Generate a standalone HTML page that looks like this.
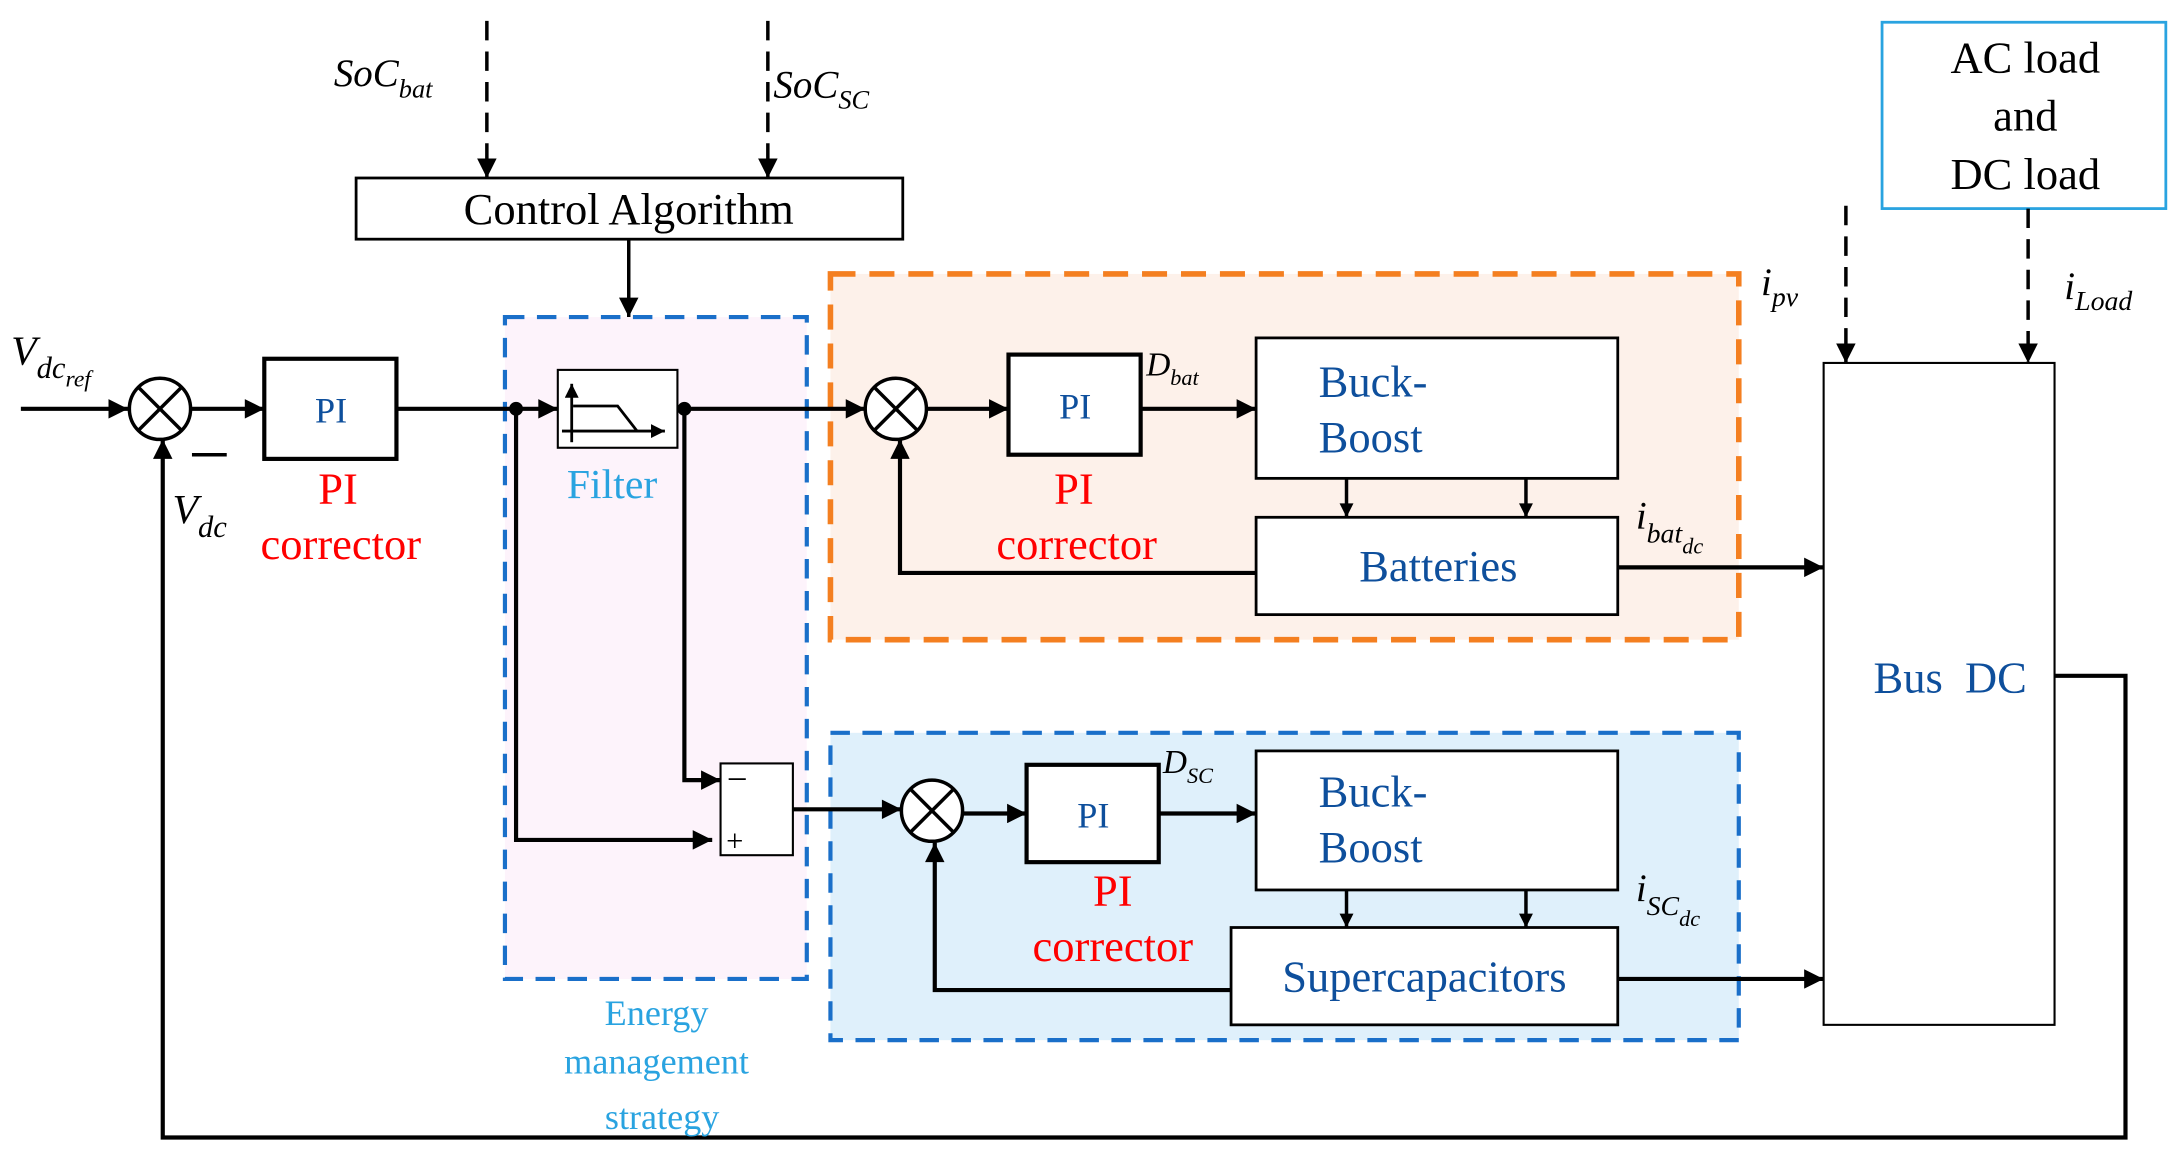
<!DOCTYPE html>
<html><head><meta charset="utf-8"><style>
html,body{margin:0;padding:0;background:#fff;}
svg{display:block;}
text{font-family:"Liberation Serif",serif;}
</style></head><body>
<svg width="2170" height="1150" viewBox="0 0 1560 827" preserveAspectRatio="none" xmlns="http://www.w3.org/2000/svg">
<defs>
<marker id="a" viewBox="0 0 10 10" refX="10" refY="5" markerWidth="8" markerHeight="8" markerUnits="userSpaceOnUse" orient="auto"><path d="M0,0 L10,5 L0,10 z" fill="#000"/></marker>
<marker id="c" viewBox="0 0 10 10" refX="10" refY="5" markerWidth="12" markerHeight="10" markerUnits="userSpaceOnUse" orient="auto"><path d="M0,0 L10,5 L0,10 z" fill="#000"/></marker>
<marker id="b" viewBox="0 0 10 10" refX="10" refY="5" markerWidth="16" markerHeight="14" markerUnits="userSpaceOnUse" orient="auto"><path d="M0,0 L10,5 L0,10 z" fill="#000"/></marker>
</defs>
<rect x="363" y="228" width="217" height="476" fill="#fdf3fb" stroke="#1a6fc9" stroke-width="3" stroke-dasharray="14,9"/>
<rect x="597" y="197" width="653" height="263" fill="#fdf1ea" stroke="#f47f20" stroke-width="4" stroke-dasharray="18,10"/>
<rect x="597" y="527" width="653" height="221" fill="#dff0fb" stroke="#1a6fc9" stroke-width="3" stroke-dasharray="14,9"/>
<g fill="#fff" stroke="#000" stroke-width="2">
<rect x="256" y="128" width="393" height="44"/>
<rect x="190" y="258" width="95" height="72" stroke-width="3"/>
<rect x="401" y="266" width="86" height="56" stroke-width="1.5"/>
<rect x="725" y="255" width="95" height="72" stroke-width="3"/>
<rect x="903" y="243" width="260" height="101"/>
<rect x="903" y="372" width="260" height="70"/>
<rect x="518" y="549" width="52" height="66" stroke-width="1.5"/>
<rect x="738" y="550" width="95" height="70" stroke-width="3"/>
<rect x="903" y="540" width="260" height="100"/>
<rect x="885" y="667" width="278" height="70"/>
<rect x="1311" y="261" width="166" height="476" stroke-width="1.5"/>
<rect x="1353" y="16" width="204" height="134" stroke="#29a3e0"/>
</g>
<g fill="#fff" stroke="#000" stroke-width="2.5">
<circle cx="115" cy="294" r="22"/><path d="M99.5,278.5 L130.5,309.5 M130.5,278.5 L99.5,309.5"/>
<circle cx="644" cy="294" r="22"/><path d="M628.5,278.5 L659.5,309.5 M659.5,278.5 L628.5,309.5"/>
<circle cx="670" cy="583" r="22"/><path d="M654.5,567.5 L685.5,598.5 M685.5,567.5 L654.5,598.5"/>
</g>
<g stroke="#000" stroke-width="2" fill="none">
<path d="M411,318 L411,276" marker-end="url(#c)"/>
<path d="M404,310 L478,310" marker-end="url(#c)"/>
<path d="M412,292 L444,292 L458,310"/>
</g>
<g stroke="#000" stroke-width="3" fill="none">
<path d="M15,294 L92,294" marker-end="url(#b)"/>
<path d="M137,294 L190,294" marker-end="url(#b)"/>
<path d="M285,294 L401,294" marker-end="url(#b)"/>
<path d="M487,294 L622,294" marker-end="url(#b)"/>
<path d="M666,294 L725,294" marker-end="url(#b)"/>
<path d="M820,294 L903,294" marker-end="url(#b)"/>
<path d="M903,412 L647,412 L647,316" marker-end="url(#b)"/>
<path d="M1163,408 L1311,408" marker-end="url(#b)"/>
<path d="M1477,486 L1528,486 L1528,818 L117,818 L117,316" marker-end="url(#b)"/>
<path d="M371,294 L371,604 L512,604" marker-end="url(#b)"/>
<path d="M492,294 L492,561 L518,561" marker-end="url(#b)"/>
<path d="M570,582 L648,582" marker-end="url(#b)"/>
<path d="M692,585 L738,585" marker-end="url(#b)"/>
<path d="M833,585 L903,585" marker-end="url(#b)"/>
<path d="M885,712 L672,712 L672,606" marker-end="url(#b)"/>
<path d="M1163,704 L1311,704" marker-end="url(#b)"/>
</g>
<g stroke="#000" stroke-width="2.5" fill="none">
<path d="M452,172 L452,228" marker-end="url(#b)"/>
<path d="M968,344 L968,372" marker-end="url(#c)"/>
<path d="M1097,344 L1097,372" marker-end="url(#c)"/>
<path d="M968,640 L968,667" marker-end="url(#c)"/>
<path d="M1097,640 L1097,667" marker-end="url(#c)"/>
</g>
<g stroke="#000" stroke-width="2.5" fill="none" stroke-dasharray="14,8">
<path d="M350,15 L350,128" marker-end="url(#b)"/>
<path d="M552,15 L552,128" marker-end="url(#b)"/>
<path d="M1327,148 L1327,261" marker-end="url(#b)"/>
<path d="M1458,150 L1458,261" marker-end="url(#b)"/>
</g>
<circle cx="371" cy="294" r="5"/><circle cx="492" cy="294" r="5"/>
<path d="M138,327 L163,327" stroke="#000" stroke-width="2.5"/>
<g font-size="32" text-anchor="middle">
<text x="452" y="161">Control Algorithm</text>
<text x="1456" y="52">AC load</text>
<text x="1456" y="94">and</text>
<text x="1456" y="136">DC load</text>
</g>
<g fill="#0e4f9c" font-size="28">
<text x="238" y="304" text-anchor="middle" font-size="26">PI</text>
<text x="773" y="301" text-anchor="middle" font-size="26">PI</text>
<text x="786" y="595" text-anchor="middle" font-size="26">PI</text>
<text x="948" y="285" font-size="32">Buck-</text><text x="948" y="325" font-size="32">Boost</text>
<text x="948" y="580" font-size="32">Buck-</text><text x="948" y="620" font-size="32">Boost</text>
<text x="1034" y="418" text-anchor="middle" font-size="32">Batteries</text>
<text x="1024" y="713" text-anchor="middle" font-size="32">Supercapacitors</text>
<text x="1402" y="498" text-anchor="middle" font-size="32">Bus&#160; DC</text>
</g>
<g fill="#ff0000" font-size="32" text-anchor="middle">
<text x="243" y="362">PI</text><text x="245" y="402">corrector</text>
<text x="772" y="362">PI</text><text x="774" y="402">corrector</text>
<text x="800" y="651">PI</text><text x="800" y="691">corrector</text>
</g>
<g fill="#29a3e0" text-anchor="middle">
<text x="440" y="358" font-size="30">Filter</text>
<text x="472" y="737" font-size="26">Energy</text>
<text x="472" y="772" font-size="26">management</text>
<text x="476" y="812" font-size="26">strategy</text>
</g>
<g font-size="22" font-style="italic">
<text x="524" y="566" font-style="normal" font-size="24">–</text>
<text x="522" y="612" font-style="normal" font-size="22">+</text>
<text x="240" y="62" font-size="28">SoC<tspan font-size="19" dy="8">bat</tspan></text>
<text x="556" y="70" font-size="28">SoC<tspan font-size="19" dy="8">SC</tspan></text>
<text x="8" y="262" font-size="30">V<tspan font-size="22" dy="10">dc</tspan><tspan font-size="17" dy="6">ref</tspan></text>
<text x="124" y="376" font-size="30">V<tspan font-size="22" dy="10">dc</tspan></text>
<text x="824" y="270" font-size="24">D<tspan font-size="16" dy="7">bat</tspan></text>
<text x="836" y="556" font-size="24">D<tspan font-size="16" dy="7">SC</tspan></text>
<text x="1176" y="380" font-size="28">i<tspan font-size="20" dy="10">bat</tspan><tspan font-size="16" dy="8">dc</tspan></text>
<text x="1176" y="648" font-size="28">i<tspan font-size="20" dy="10">SC</tspan><tspan font-size="16" dy="8">dc</tspan></text>
<text x="1266" y="212" font-size="28">i<tspan font-size="20" dy="8">pv</tspan></text>
<text x="1484" y="215" font-size="28">i<tspan font-size="20" dy="8">Load</tspan></text>
</g>
</svg>
</body></html>
